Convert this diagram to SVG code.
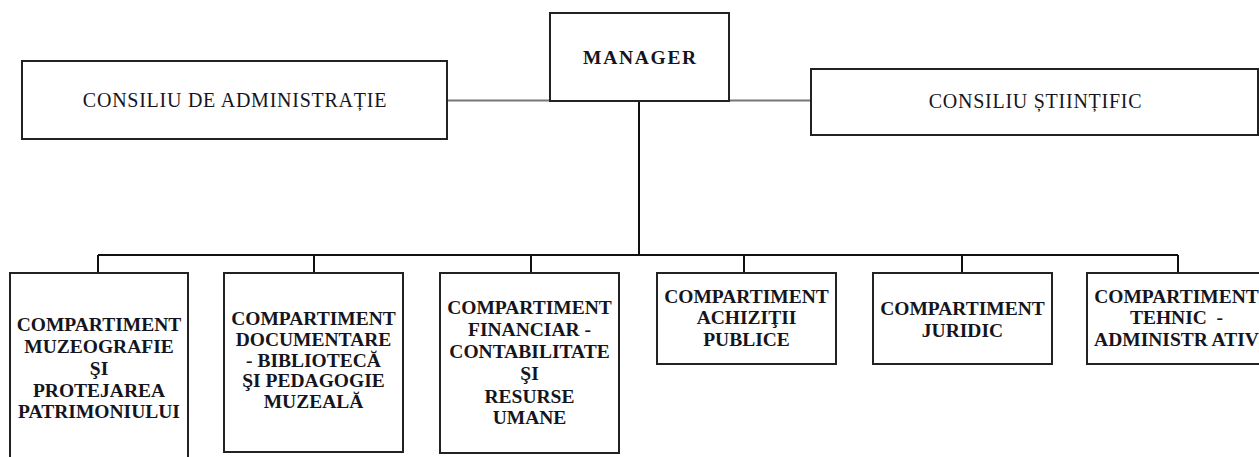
<svg xmlns="http://www.w3.org/2000/svg" width="1259" height="457" viewBox="0 0 1259 457">
<style>
.box{fill:#fff;stroke:#222;stroke-width:2}
.t{font-family:'Liberation Serif','Times New Roman',serif;font-size:20px;letter-spacing:0.75px;fill:#151520;text-anchor:middle}
.b{font-family:'Liberation Serif','Times New Roman',serif;font-size:19.5px;font-weight:bold;fill:#151520;text-anchor:middle}
.c{fill:none;stroke:#111;stroke-width:2}
.g{fill:none;stroke:#777;stroke-width:2}
</style>
<rect width="1259" height="457" fill="#fff"/>
<g id="connectors">
<line class="g" x1="447" y1="100.5" x2="550" y2="100.5"/>
<line class="g" x1="729" y1="100.5" x2="811" y2="100.5"/>
<line class="c" x1="639" y1="101" x2="639" y2="255"/>
<line class="c" x1="98" y1="255" x2="1178" y2="255"/>
<line class="c" x1="98" y1="255" x2="98" y2="273"/>
<line class="c" x1="314" y1="255" x2="314" y2="273"/>
<line class="c" x1="531" y1="255" x2="531" y2="273"/>
<line class="c" x1="744" y1="255" x2="744" y2="273"/>
<line class="c" x1="962" y1="255" x2="962" y2="273"/>
<line class="c" x1="1178" y1="255" x2="1178" y2="273"/>
</g>
<g id="manager">
<rect class="box" x="550" y="13" width="179" height="88"/>
<text class="b" x="640.5" y="64" font-size="20" letter-spacing="1.7">MANAGER</text>
</g>
<g id="consiliu-administratie">
<rect class="box" x="22" y="61" width="425" height="78"/>
<text class="t" x="235" y="107">CONSILIU DE ADMINISTRAȚIE</text>
</g>
<g id="consiliu-stiintific">
<rect class="box" x="811" y="69" width="447" height="66"/>
<text class="t" x="1035.5" y="108">CONSILIU ȘTIINȚIFIC</text>
</g>
<g id="comp-muzeografie">
<rect class="box" x="10" y="273" width="178" height="200"/>
<text class="b" y="331"><tspan x="99">COMPARTIMENT</tspan><tspan x="99" dy="22">MUZEOGRAFIE</tspan><tspan x="99" dy="22">ŞI</tspan><tspan x="99" dy="22">PROTEJAREA</tspan><tspan x="99" dy="21">PATRIMONIULUI</tspan></text>
</g>
<g id="comp-documentare">
<rect class="box" x="224" y="273" width="179" height="179"/>
<text class="b" y="325"><tspan x="313.5">COMPARTIMENT</tspan><tspan x="313.5" dy="21">DOCUMENTARE</tspan><tspan x="313.5" dy="20.5">- BIBLIOTECĂ</tspan><tspan x="313.5" dy="20.5">ŞI PEDAGOGIE</tspan><tspan x="313.5" dy="20.5">MUZEALĂ</tspan></text>
</g>
<g id="comp-financiar">
<rect class="box" x="440" y="273" width="179" height="180"/>
<text class="b" y="314"><tspan x="529.5">COMPARTIMENT</tspan><tspan x="529.5" dy="21.5">FINANCIAR -</tspan><tspan x="529.5" dy="22">CONTABILITATE</tspan><tspan x="529.5" dy="22">ŞI</tspan><tspan x="529.5" dy="23">RESURSE</tspan><tspan x="529.5" dy="21.5">UMANE</tspan></text>
</g>
<g id="comp-achizitii">
<rect class="box" x="657" y="273" width="179" height="91"/>
<text class="b" y="303"><tspan x="746.5">COMPARTIMENT</tspan><tspan x="746.5" dy="21">ACHIZIŢII</tspan><tspan x="746.5" dy="21.5">PUBLICE</tspan></text>
</g>
<g id="comp-juridic">
<rect class="box" x="873" y="273" width="179" height="91"/>
<text class="b" y="315"><tspan x="962.5">COMPARTIMENT</tspan><tspan x="962.5" dy="22">JURIDIC</tspan></text>
</g>
<g id="comp-tehnic">
<rect class="box" x="1087" y="273" width="179" height="91"/>
<text class="b" y="303" xml:space="preserve"><tspan x="1176.5">COMPARTIMENT</tspan><tspan x="1176.5" dy="21">TEHNIC  -</tspan><tspan x="1176.5" dy="22">ADMINISTR ATIV</tspan></text>
</g>
</svg>
